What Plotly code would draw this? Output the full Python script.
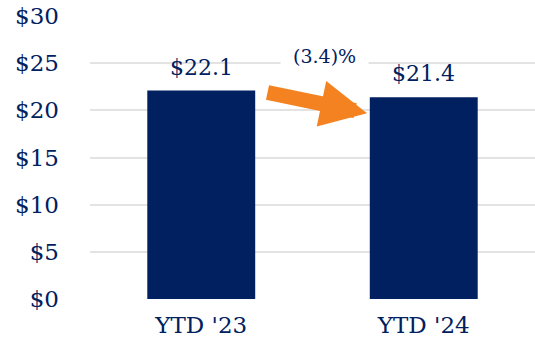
import plotly.graph_objects as go

# Year-to-date totals, in $ millions
periods = ["YTD '23", "YTD '24"]
totals = [22.1, 21.4]
change_label = "(3.4)%"

navy = "#002060"
orange = "#F58220"
grid = "#E3E3E3"
font_family = "DejaVu Serif, serif"

fig = go.Figure()
fig.add_trace(go.Bar(
    x=periods,
    y=totals,
    marker=dict(color=navy, line=dict(width=0)),
    hoverinfo="skip",
))

# Value labels above each bar
for p, v in zip(periods, totals):
    fig.add_annotation(
        x=p, y=v, text=f"${v:.1f}", showarrow=False,
        yanchor="bottom", yshift=9,
        font=dict(family=font_family, size=22, color=navy),
    )

# Period-over-period change label
fig.add_annotation(
    x=0.5, y=25.8, text=change_label, showarrow=False,
    xref="x", yref="y", bgcolor="white", borderpad=12,
    xshift=12,
    font=dict(family=font_family, size=19, color=navy),
)

# Orange arrow pointing from the first bar to the second
fig.add_annotation(
    x=0.745, y=19.7, xref="x", yref="y",
    text="", showarrow=True,
    ax=-101, ay=-21,
    arrowhead=2, arrowsize=0.62, arrowwidth=15, arrowcolor=orange,
    standoff=0, startstandoff=0,
)

fig.update_layout(
    width=535, height=347,
    margin=dict(l=90, r=0, t=16, b=48),
    paper_bgcolor="white", plot_bgcolor="white",
    bargap=0.515,
    showlegend=False,
    font=dict(family=font_family, color=navy),
    xaxis=dict(
        showgrid=False, showline=False, zeroline=False,
        tickfont=dict(family=font_family, size=23, color=navy),
        ticklabelstandoff=10,
        range=[-0.5, 1.5],
    ),
    yaxis=dict(
        range=[0, 30], dtick=5, tickprefix="$",
        showgrid=True, gridcolor=grid, gridwidth=2,
        zeroline=False, showline=False,
        tickfont=dict(family=font_family, size=23, color=navy),
        ticklabelstandoff=30,
    ),
)

fig.write_html("out.html")
